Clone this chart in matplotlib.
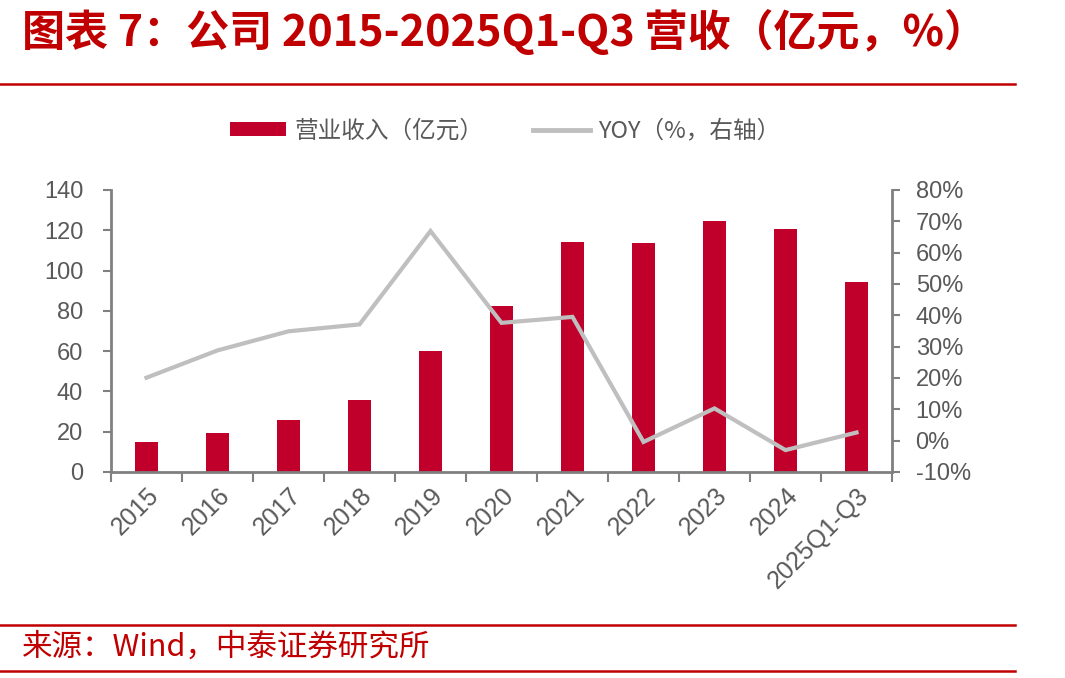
import matplotlib
matplotlib.use('Agg')
import matplotlib.pyplot as plt
import numpy as np
from matplotlib.patches import Patch
from matplotlib.lines import Line2D

categories = ['2015', '2016', '2017', '2018', '2019', '2020', '2021',
              '2022', '2023', '2024', '2025Q1-Q3']
revenue = [14.7, 19.2, 26.0, 35.7, 60.1, 82.3, 114.1, 113.5, 124.6, 120.6, 94.2]
yoy = [20.1, 28.8, 34.9, 37.1, 66.9, 37.6, 39.5, -0.4, 10.3, -3.0, 2.6]
left_ticks = [0, 20, 40, 60, 80, 100, 120, 140]
right_ticks = [-10, 0, 10, 20, 30, 40, 50, 60, 70, 80]
right_labels = ['-10%', '0%', '10%', '20%', '30%', '40%', '50%', '60%', '70%', '80%']

title = '图表 7：公司 2015-2025Q1-Q3 营收（亿元，%）'
source = '来源：Wind，中泰证券研究所'
bar_label = '营业收入（亿元）'
line_label = 'YOY（%，右轴）'

RED = '#C00000'
BAR = '#C0002B'
LINE = '#BFBFBF'
AXIS = '#808080'
TXT = '#595959'
CJK = ['Noto Sans CJK SC', 'DejaVu Sans']
LAT = ['Liberation Sans', 'DejaVu Sans']

W, H = 1065, 678
fig = plt.figure(figsize=(W / 100, H / 100), dpi=100)
fig.patch.set_facecolor('white')

ax = fig.add_axes([111 / W, 1 - 472 / H, (892 - 111) / W, (472 - 190) / H])
x = np.arange(len(categories))
ax.bar(x, revenue, width=0.31, color=BAR, zorder=2)
ax.set_xlim(-0.5, len(categories) - 0.5)
ax.set_ylim(0, 140)
ax.set_yticks(left_ticks)
ax.set_yticklabels([str(v) for v in left_ticks], family=LAT, fontsize=17, color=TXT)
ax.tick_params(axis='y', length=6, width=1.5, color=AXIS, pad=14)

# x ticks at category boundaries, labels at centers
ax.set_xticks(np.arange(-0.5, len(categories), 1.0))
ax.set_xticklabels([])
ax.tick_params(axis='x', which='major', length=7, width=1.5, color=AXIS)
ax.set_xticks(x, minor=True)
ax.set_xticklabels(categories, minor=True, rotation=45, ha='right', va='top',
                   rotation_mode='anchor', family=LAT, fontsize=18, color=TXT)
ax.tick_params(axis='x', which='minor', length=0, pad=8)

for s in ['top', 'right']:
    ax.spines[s].set_visible(False)
for s in ['left', 'bottom']:
    ax.spines[s].set_color(AXIS)
    ax.spines[s].set_linewidth(2)

ax2 = ax.twinx()
ax2.plot(x, yoy, color=LINE, lw=3.0, zorder=3, solid_joinstyle='miter')
ax2.set_ylim(-10, 80)
ax2.set_yticks(right_ticks)
ax2.set_yticklabels(right_labels, family=LAT, fontsize=17, color=TXT)
ax2.tick_params(axis='y', length=6, width=1.5, color=AXIS, pad=11)
for s in ['top', 'left', 'bottom']:
    ax2.spines[s].set_visible(False)
ax2.spines['right'].set_color(AXIS)
ax2.spines['right'].set_linewidth(2)

handles = [Patch(facecolor=BAR, edgecolor='none', label=bar_label),
           Line2D([0], [0], color=LINE, lw=3.5, label=line_label)]
leg = fig.legend(handles=handles, loc='center', bbox_to_anchor=(505 / W, 1 - 131 / H),
                 ncol=2, frameon=False, prop={'family': CJK, 'size': 17},
                 handlelength=2.4, handleheight=0.5, handletextpad=0.35,
                 columnspacing=2.1, borderpad=0, borderaxespad=0)
for t in leg.get_texts():
    t.set_color(TXT)

fig.text(22 / W, 1 - 32 / H, title, family=CJK, fontsize=31, fontweight='bold',
         fontstyle='italic', color=RED, ha='left', va='center')
fig.text(22 / W, 1 - 647 / H, source, family=CJK, fontsize=22, color=RED,
         ha='left', va='center')

for yy in [84, 625, 671]:
    fig.add_artist(Line2D([0, 1015 / W], [1 - yy / H, 1 - yy / H],
                          transform=fig.transFigure, color=RED, lw=1.8))

fig.savefig('out.png', dpi=100, facecolor='white')
